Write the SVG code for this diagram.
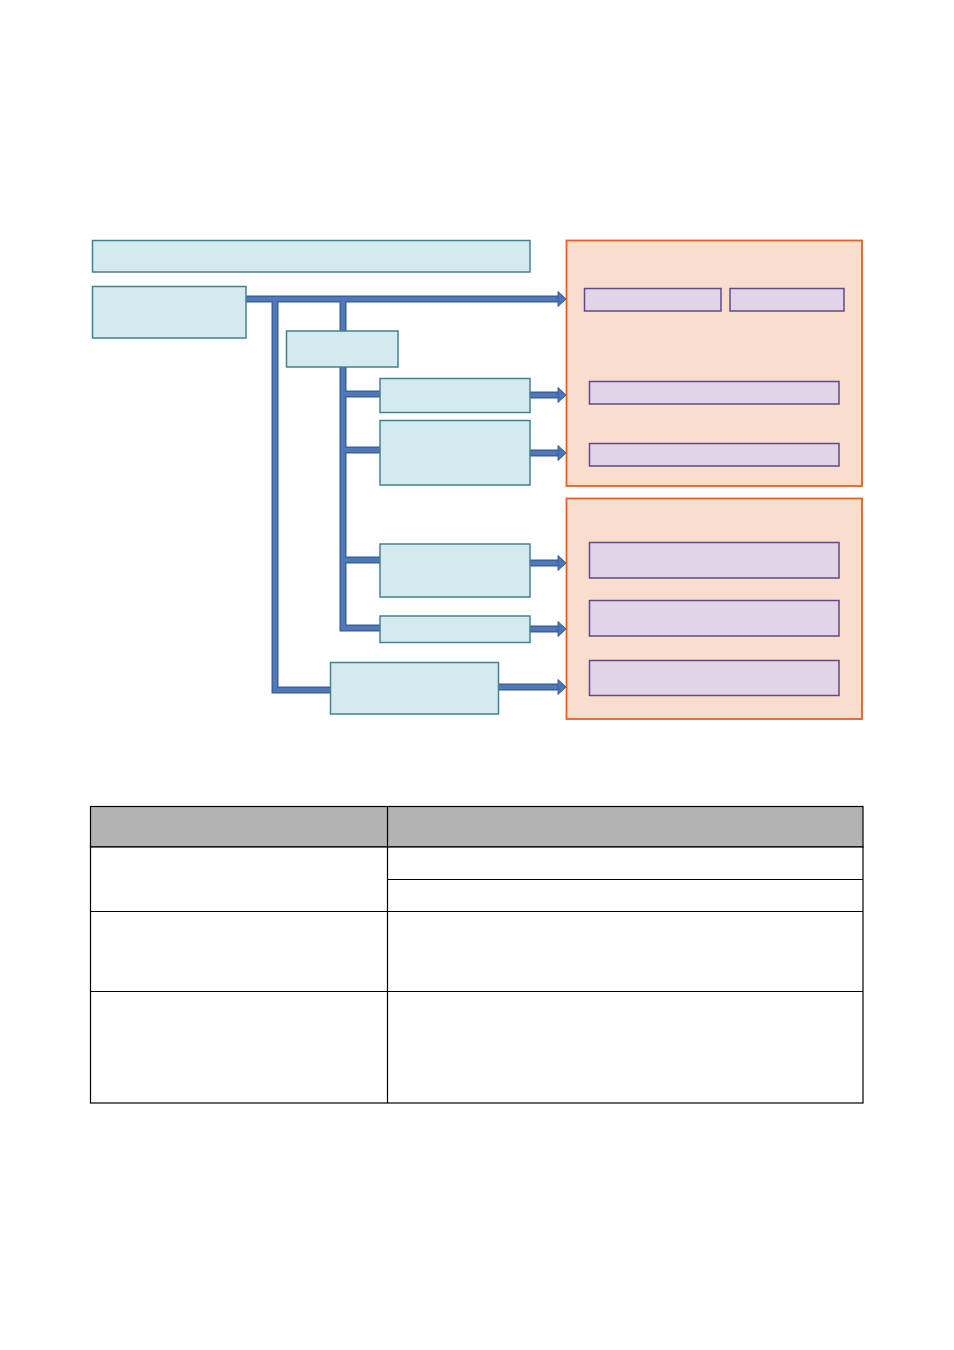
<svg xmlns="http://www.w3.org/2000/svg" width="954" height="1350" viewBox="0 0 954 1350">
<style>
.n{fill:#d3ebef;stroke:#44818f;stroke-width:1.5}
.p{fill:#f9dece;stroke:#e0622a;stroke-width:1.8}
.q{fill:#e0d4e6;stroke:#5e4a8a;stroke-width:1.5}
.c{fill:none;stroke:#3d5f9c;stroke-width:7;stroke-linejoin:miter}
.ci{fill:none;stroke:#5079bb;stroke-width:4;stroke-linejoin:miter}
.h{fill:#4f74b3;stroke:#3d5f9c;stroke-width:1}
.t{fill:#fff;stroke:#000;stroke-width:1.2}
.th{fill:#b3b3b3;stroke:#000;stroke-width:1.2}
</style>
<rect width="954" height="1350" fill="#fff"/>
<g id="panel1"><rect class="p" x="566.5" y="240.5" width="295.5" height="245.5"/></g>
<g id="panel2"><rect class="p" x="566.5" y="498.5" width="295.5" height="220.5"/></g>
<g id="connectors">
<path class="c" d="M246 299H559 M275 299V690H330 M343 299V331 M343 367V628H380 M343 394H380 M343 450H380 M343 560H380 M530 395H559 M530 453H559 M530 563H559 M530 629H559 M498 687H559"/>
<path class="ci" d="M246 299H559 M275 299V690H330 M343 299V331 M343 367V628H380 M343 394H380 M343 450H380 M343 560H380 M530 395H559 M530 453H559 M530 563H559 M530 629H559 M498 687H559"/>
<polygon class="h" points="558,291.5 566,299 558,306.5"/>
<polygon class="h" points="558,387.5 566,395 558,402.5"/>
<polygon class="h" points="558,445.5 566,453 558,460.5"/>
<polygon class="h" points="558,555.5 566,563 558,570.5"/>
<polygon class="h" points="558,621.5 566,629 558,636.5"/>
<polygon class="h" points="558,679.5 566,687 558,694.5"/>
</g>
<g id="top"><rect class="n" x="92.5" y="240.5" width="437.5" height="31.5"/></g>
<g id="boxA"><rect class="n" x="92.5" y="286.5" width="153.5" height="51.5"/></g>
<g id="boxB"><rect class="n" x="286.5" y="331" width="111.5" height="36"/></g>
<g id="boxC"><rect class="n" x="380" y="378.5" width="150" height="34"/></g>
<g id="boxD"><rect class="n" x="380" y="420.5" width="150" height="64.5"/></g>
<g id="boxE"><rect class="n" x="380" y="544" width="150" height="53"/></g>
<g id="boxF"><rect class="n" x="380" y="616" width="150" height="26.5"/></g>
<g id="boxG"><rect class="n" x="330.5" y="662.5" width="168" height="51.5"/></g>
<g id="p1"><rect class="q" x="584.5" y="288.5" width="136.5" height="22.5"/></g>
<g id="p2"><rect class="q" x="730" y="288.5" width="114" height="22.5"/></g>
<g id="p3"><rect class="q" x="589.5" y="381.5" width="249.5" height="22.5"/></g>
<g id="p4"><rect class="q" x="589.5" y="443.5" width="249.5" height="22.5"/></g>
<g id="p5"><rect class="q" x="589.5" y="542.5" width="249.5" height="35.5"/></g>
<g id="p6"><rect class="q" x="589.5" y="600.5" width="249.5" height="35.5"/></g>
<g id="p7"><rect class="q" x="589.5" y="660.5" width="249.5" height="35"/></g>
<g id="table">
<rect class="th" x="90.5" y="806.5" width="772.5" height="40.5"/>
<rect class="t" x="90.5" y="847" width="772.5" height="256"/>
<line x1="387.5" y1="806.5" x2="387.5" y2="1103" stroke="#000" stroke-width="1.2"/>
<line x1="387.5" y1="879.5" x2="863" y2="879.5" stroke="#000" stroke-width="1.2"/>
<line x1="90.5" y1="911.5" x2="863" y2="911.5" stroke="#000" stroke-width="1.2"/>
<line x1="90.5" y1="991.5" x2="863" y2="991.5" stroke="#000" stroke-width="1.2"/>
</g>
</svg>
